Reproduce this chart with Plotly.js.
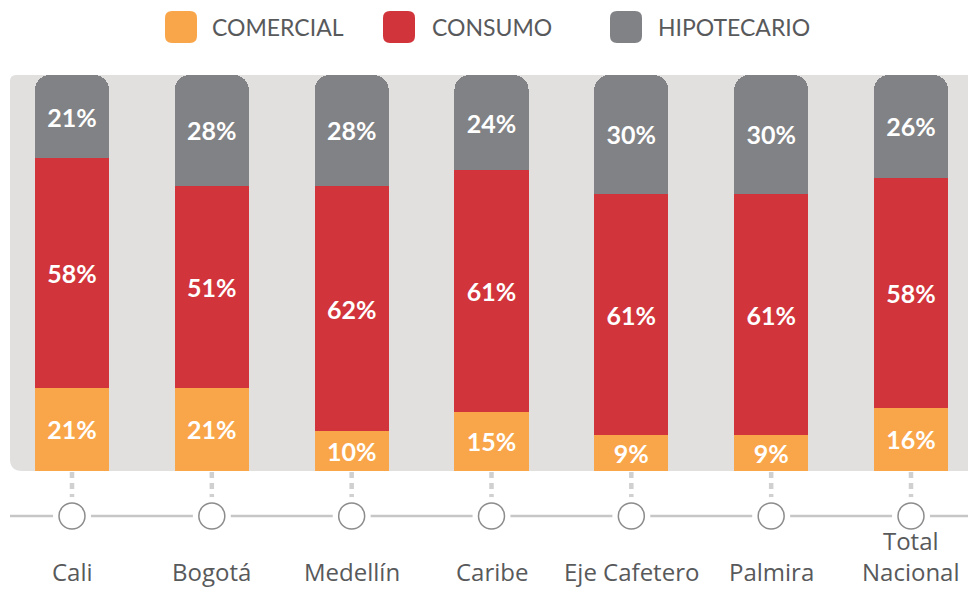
<!DOCTYPE html>
<html><head><meta charset="utf-8">
<script src="https://cdn.plot.ly/plotly-3.0.1.min.js"></script>
<style>html,body{margin:0;padding:0;background:#fff;} #chart{width:968px;height:589px;}</style>
</head><body><div id="chart"></div>
<script>
// ---- data ----
const categories = ["Cali", "Bogotá", "Medellín", "Caribe", "Eje Cafetero", "Palmira", "Total<br>Nacional"];
const seriesNames = ["COMERCIAL", "CONSUMO", "HIPOTECARIO"];
const comercial = [21, 21, 10, 15, 9, 9, 16];
const consumo = [58, 51, 62, 61, 61, 61, 58];
const hipotecario = [21, 28, 28, 24, 30, 30, 26];

// ---- style ----
const colors = ["#f9a64a", "#d1343a", "#818285"];
const FONT = "Lato";
const LABEL_FONT = "Open Sans";
const W = 968, H = 589, TOP = 75, BOTTOM = 471;
const PH = BOTTOM - TOP;
const px = x => x / W;
const py = y => (BOTTOM - y) / PH;

const values = [comercial, consumo, hipotecario];
const traces = values.map((v, k) => ({
  type: 'bar',
  x: categories,
  y: v,
  name: seriesNames[k],
  width: 0.53,
  marker: {color: colors[k], line: {width: 0}},
  texttemplate: '%{y}%',
  textposition: 'inside',
  insidetextanchor: 'middle',
  textangle: 0,
  constraintext: 'none',
  textfont: {family: FONT, size: 25, color: '#ffffff', weight: 700},
  hoverinfo: 'skip'
}));

const shapes = [];
// background panel with rounded left corners
(function () {
  const x0 = 10, x1 = 990, y0 = TOP, y1 = BOTTOM, rt = 6, rb = 12;
  const P = (x, y) => px(x) + ',' + py(y);
  const path = 'M ' + P(x0 + rt, y0) + ' L ' + P(x1, y0) + ' L ' + P(x1, y1) +
    ' L ' + P(x0 + rb, y1) + ' Q ' + P(x0, y1) + ' ' + P(x0, y1 - rb) +
    ' L ' + P(x0, y0 + rt) + ' Q ' + P(x0, y0) + ' ' + P(x0 + rt, y0) + ' Z';
  shapes.push({type: 'path', xref: 'paper', yref: 'paper', path: path,
    fillcolor: '#e1e0df', line: {width: 0}, layer: 'below'});
})();
// horizontal timeline
shapes.push({type: 'line', xref: 'paper', yref: 'paper', x0: px(10), x1: 1.02,
  y0: py(516), y1: py(516), line: {color: '#c6c6c6', width: 2.5}});
categories.forEach(c => {
  shapes.push({type: 'line', xref: 'x', yref: 'paper', x0: c, x1: c,
    y0: py(472), y1: py(501), line: {color: '#d0d0d0', width: 4.5, dash: '6px,5px'}});
  shapes.push({type: 'circle', xref: 'x', yref: 'paper', xsizemode: 'pixel', ysizemode: 'pixel',
    xanchor: c, yanchor: py(516), x0: -19, x1: 19, y0: -19, y1: 19,
    fillcolor: '#ffffff', line: {width: 0}});
  shapes.push({type: 'circle', xref: 'x', yref: 'paper', xsizemode: 'pixel', ysizemode: 'pixel',
    xanchor: c, yanchor: py(516), x0: -13, x1: 13, y0: -13, y1: 13,
    fillcolor: '#ffffff', line: {color: '#8c8c8c', width: 1.5}});
});

// legend (custom, large rounded swatches)
const legendSwatchX = [165, 383, 610];
const legendTextX = [210, 430, 656];
const annotations = [];
seriesNames.forEach((n, k) => {
  const x0 = legendSwatchX[k], x1 = x0 + 32, y0 = 11, y1 = 43, r = 7;
  const P = (x, y) => px(x) + ',' + py(y);
  const path = 'M ' + P(x0 + r, y0) + ' L ' + P(x1 - r, y0) + ' Q ' + P(x1, y0) + ' ' + P(x1, y0 + r) +
    ' L ' + P(x1, y1 - r) + ' Q ' + P(x1, y1) + ' ' + P(x1 - r, y1) +
    ' L ' + P(x0 + r, y1) + ' Q ' + P(x0, y1) + ' ' + P(x0, y1 - r) +
    ' L ' + P(x0, y0 + r) + ' Q ' + P(x0, y0) + ' ' + P(x0 + r, y0) + ' Z';
  shapes.push({type: 'path', xref: 'paper', yref: 'paper', path: path,
    fillcolor: colors[k], line: {width: 0}});
  annotations.push({xref: 'paper', yref: 'paper', x: px(legendTextX[k]), y: py(27),
    xanchor: 'left', yanchor: 'middle', showarrow: false, text: n,
    font: {family: FONT, size: 23, color: '#58595b'}});
});

// category labels (bottom-aligned so last lines line up)
categories.forEach(c => {
  annotations.push({xref: 'x', yref: 'paper', x: c, y: py(589),
    xanchor: 'center', yanchor: 'bottom', borderpad: 0, showarrow: false, text: c,
    font: {family: LABEL_FONT, size: 24, color: '#58595b'}});
});

const scale = 839 / 6;
const r0 = -72 / scale;
const layout = {
  width: W, height: H,
  margin: {l: 0, r: 0, t: TOP, b: H - BOTTOM, pad: 0},
  barmode: 'stack',
  barcornerradius: 15,
  showlegend: false,
  paper_bgcolor: '#ffffff',
  plot_bgcolor: 'rgba(0,0,0,0)',
  xaxis: {type: 'category', range: [r0, r0 + W / scale], showticklabels: false,
    showgrid: false, zeroline: false, showline: false, ticks: '', fixedrange: true},
  yaxis: {range: [0, 100], showticklabels: false, showgrid: false, zeroline: false,
    showline: false, ticks: '', fixedrange: true},
  shapes: shapes,
  annotations: annotations,
  font: {family: FONT}
};

Plotly.newPlot('chart', traces, layout, {displayModeBar: false, staticPlot: true});
</script>
</body></html>
